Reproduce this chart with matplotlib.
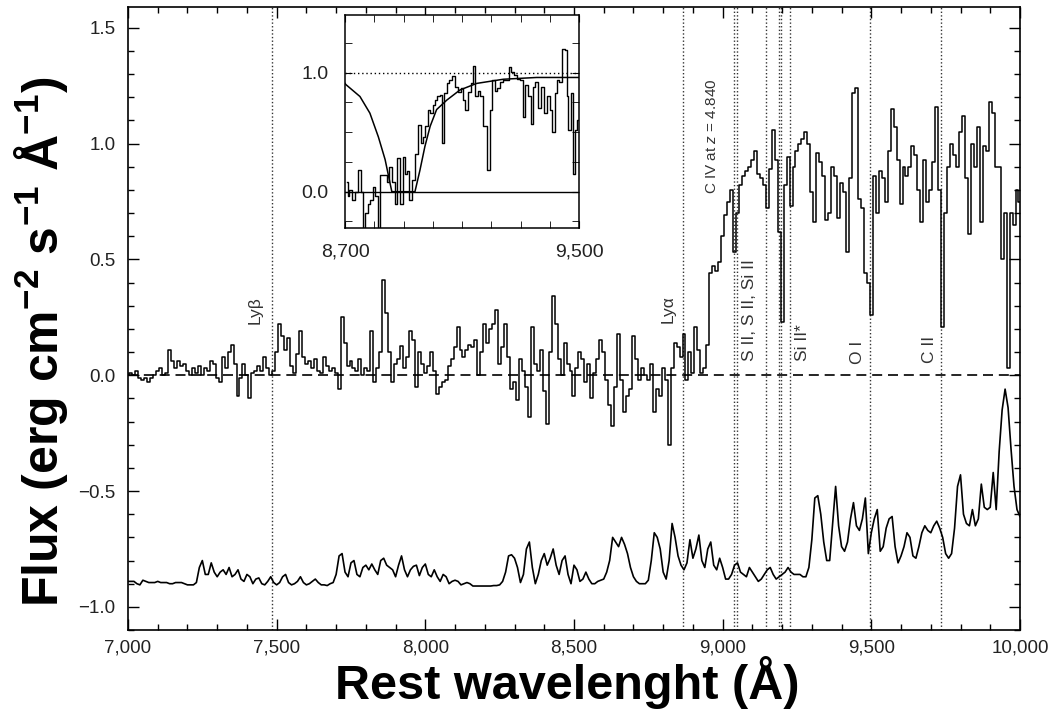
import numpy as np
import matplotlib
matplotlib.use("Agg")
import matplotlib.pyplot as plt
from matplotlib.ticker import MultipleLocator, FixedLocator, FuncFormatter

plt.rcParams['font.family'] = ['Liberation Sans', 'DejaVu Sans']
plt.rcParams['mathtext.fontset'] = 'custom'
plt.rcParams['mathtext.rm'] = 'Liberation Sans'
plt.rcParams['mathtext.it'] = 'Liberation Sans:italic'

# observed spectrum, 10 A bins from 7000 to 10000
wave = np.arange(7000, 10001, 10)
flux = [
    0.00, 0.01, 0.00, 0.02, -0.01, -0.02, -0.01, -0.03, -0.01, 0.00,
    0.02, 0.03, 0.00, 0.01, 0.11, 0.06, 0.03, 0.06, 0.04, 0.05,
    0.02, 0.00, 0.03, 0.01, 0.04, 0.00, 0.03, 0.02, 0.06, 0.05,
    -0.01, -0.03, 0.08, 0.03, 0.10, 0.13, 0.05, -0.09, -0.01, 0.05,
    0.00, -0.10, 0.01, 0.02, 0.04, 0.02, 0.08, 0.03, 0.00, 0.02,
    0.10, 0.22, 0.17, 0.11, 0.16, 0.04, 0.01, 0.09, 0.19, 0.08,
    0.05, 0.06, 0.03, 0.07, 0.02, 0.01, 0.08, 0.04, 0.02, 0.03,
    0.01, -0.06, 0.25, 0.14, 0.04, 0.06, 0.03, 0.02, 0.07, 0.00,
    0.03, 0.02, 0.19, -0.03, 0.03, 0.10, 0.41, 0.27, 0.10, -0.03,
    0.05, 0.07, 0.125, 0.03, 0.08, 0.19, 0.15, -0.05, 0.10, 0.05,
    0.01, 0.04, 0.10, 0.02, -0.08, -0.05, -0.03, -0.02, 0.04, 0.07,
    0.12, 0.21, 0.11, 0.08, 0.11, 0.13, 0.12, 0.15, 0.00, 0.10,
    0.22, 0.14, 0.20, 0.22, 0.28, 0.05, 0.12, 0.22, 0.08, -0.06,
    -0.03, -0.105, 0.07, 0.02, -0.05, -0.18, 0.21, 0.05, 0.02, 0.11,
    -0.07, -0.21, 0.10, 0.34, 0.22, 0.07, 0.00, 0.14, 0.05, 0.02,
    -0.09, 0.03, 0.10, 0.07, -0.03, 0.05, -0.10, 0.01, 0.07, 0.15,
    0.10, -0.02, -0.13, -0.22, -0.05, 0.18, -0.02, -0.16, -0.09, -0.06,
    0.17, 0.07, -0.02, 0.03, 0.00, -0.02, 0.05, -0.16, -0.06, -0.09,
    0.03, -0.02, -0.30, 0.03, 0.14, 0.12, 0.08, 0.18, -0.02, 0.10,
    0.01, 0.21, 0.11, 0.01, 0.03, 0.13, 0.44, 0.47, 0.45, 0.49,
    0.60, 0.69, 0.75, 0.80, 0.53, 0.70, 0.82, 0.86, 0.88, 0.90,
    0.93, 0.97, 0.87, 0.85, 0.82, 0.72, 0.89, 1.06, 0.93, 0.62,
    0.23, 0.82, 0.94, 0.73, 0.90, 0.97, 1.00, 1.02, 1.05, 1.00,
    0.79, 0.66, 0.96, 0.92, 0.86, 0.67, 0.70, 0.90, 0.86, 0.68,
    0.83, 0.79, 0.53, 0.85, 1.22, 1.24, 0.76, 0.72, 0.44, 0.40,
    0.26, 0.86, 0.70, 0.88, 0.85, 0.75, 0.97, 1.15, 1.07, 0.93,
    0.74, 0.90, 0.86, 0.90, 0.99, 0.95, 0.80, 0.66, 0.93, 0.75,
    0.80, 0.92, 1.16, 0.80, 0.21, 0.70, 0.90, 1.00, 0.95, 0.90,
    1.05, 1.12, 0.85, 0.61, 1.00, 0.90, 1.07, 0.66, 0.99, 0.97,
    1.18, 1.13, 0.90, 0.90, 0.50, 0.70, 0.03, 0.70, 0.65, 0.80,
    0.75,
]

# sky spectrum, shifted down
sky = [
    -0.89, -0.89, -0.89, -0.90, -0.905, -0.885, -0.89, -0.895, -0.895, -0.895,
    -0.89, -0.895, -0.895, -0.895, -0.90, -0.90, -0.895, -0.895, -0.895, -0.90,
    -0.905, -0.905, -0.905, -0.895, -0.83, -0.80, -0.86, -0.86, -0.81, -0.85,
    -0.87, -0.85, -0.84, -0.86, -0.83, -0.87, -0.86, -0.84, -0.88, -0.89,
    -0.86, -0.87, -0.90, -0.88, -0.875, -0.90, -0.905, -0.89, -0.87, -0.895,
    -0.905, -0.895, -0.87, -0.86, -0.895, -0.905, -0.90, -0.89, -0.87, -0.895,
    -0.905, -0.90, -0.89, -0.88, -0.895, -0.905, -0.905, -0.908, -0.90, -0.895,
    -0.86, -0.78, -0.77, -0.85, -0.87, -0.81, -0.80, -0.86, -0.87, -0.83,
    -0.82, -0.84, -0.815, -0.84, -0.86, -0.80, -0.79, -0.82, -0.83, -0.84,
    -0.87, -0.82, -0.78, -0.84, -0.87, -0.84, -0.825, -0.82, -0.865, -0.83,
    -0.815, -0.86, -0.87, -0.84, -0.87, -0.89, -0.86, -0.87, -0.90, -0.89,
    -0.885, -0.89, -0.905, -0.90, -0.895, -0.90, -0.91, -0.91, -0.91, -0.91,
    -0.91, -0.91, -0.91, -0.908, -0.908, -0.905, -0.89, -0.85, -0.78, -0.775,
    -0.79, -0.83, -0.895, -0.86, -0.75, -0.72, -0.83, -0.90, -0.86, -0.80,
    -0.77, -0.82, -0.79, -0.75, -0.82, -0.86, -0.80, -0.78, -0.86, -0.90,
    -0.82, -0.84, -0.89, -0.88, -0.85, -0.88, -0.90, -0.90, -0.89, -0.885,
    -0.88, -0.85, -0.80, -0.70, -0.72, -0.74, -0.70, -0.73, -0.77, -0.83,
    -0.87, -0.89, -0.90, -0.90, -0.90, -0.885, -0.80, -0.68, -0.70, -0.75,
    -0.85, -0.88, -0.80, -0.64, -0.70, -0.78, -0.82, -0.84, -0.81, -0.71,
    -0.79, -0.75, -0.69, -0.80, -0.83, -0.75, -0.72, -0.82, -0.84, -0.79,
    -0.83, -0.88, -0.88, -0.86, -0.82, -0.81, -0.85, -0.86, -0.87, -0.83,
    -0.85, -0.87, -0.89, -0.88, -0.86, -0.84, -0.83, -0.86, -0.88, -0.87,
    -0.86, -0.85, -0.83, -0.85, -0.86, -0.86, -0.86, -0.87, -0.87, -0.83,
    -0.71, -0.53, -0.52, -0.60, -0.72, -0.80, -0.80, -0.64, -0.48, -0.65,
    -0.74, -0.76, -0.72, -0.62, -0.55, -0.65, -0.67, -0.62, -0.53, -0.77,
    -0.68, -0.62, -0.58, -0.76, -0.74, -0.66, -0.62, -0.61, -0.74, -0.81,
    -0.78, -0.74, -0.68, -0.70, -0.78, -0.79, -0.74, -0.68, -0.65, -0.67,
    -0.68, -0.65, -0.63, -0.66, -0.70, -0.77, -0.79, -0.77, -0.66, -0.48,
    -0.43, -0.60, -0.64, -0.65, -0.58, -0.65, -0.62, -0.47, -0.57, -0.58,
    -0.57, -0.42, -0.58, -0.33, -0.15, -0.06, -0.14, -0.32, -0.48, -0.58,
    -0.61,
]

# absorption line positions and their labels
line_waves = [7484, 8867, 9037, 9047, 9147, 9188, 9197, 9225, 9497, 9735]
label_text = ['Ly\u03b2', 'Ly\u03b1', 'C IV at $z$ = 4.840', 'S II, S II, Si II',
              'Si II*', 'O I', 'C II']
label_x = [7427, 8816, 8964, 9092, 9267, 9455, 9697]
label_y = [0.28, 0.285, 1.03, 0.28, 0.14, 0.10, 0.11]
label_size = [12.5, 12.5, 11, 12.5, 12.5, 12.5, 12.5]

# zoom on the Lya region (normalised flux)
in_wave = [8706, 8711, 8719, 8728, 8740, 8751, 8760, 8765, 8774, 8783,
           8791, 8799, 8808, 8817, 8825, 8837, 8848, 8856, 8865, 8874,
           8882, 8894, 8899, 8908, 8916, 8924, 8934, 8945, 8954, 8962,
           8970, 8979, 8988, 8996, 9004, 9011, 9020, 9028, 9036, 9042,
           9053, 9061, 9070, 9082, 9091, 9099, 9107, 9116, 9125, 9133,
           9141, 9150, 9159, 9167, 9179, 9190, 9198, 9207, 9216, 9224,
           9236, 9247, 9255, 9264, 9273, 9281, 9293, 9304, 9312, 9321,
           9330, 9338, 9346, 9355, 9367, 9376, 9384, 9395, 9406, 9412,
           9421, 9429, 9437, 9446, 9455, 9460, 9467, 9475, 9483, 9490, 9498]
in_flux = [0.08, -0.04, 0.01, -0.07, 0.00, 0.18, 0.00, -0.32, -0.18, -0.10,
           -0.07, 0.04, -0.04, -0.38, 0.14, 0.14, 0.08, 0.21, 0.08, -0.10,
           0.28, -0.10, 0.29, 0.15, 0.17, -0.07, 0.10, 0.32, 0.56, 0.41,
           0.46, 0.55, 0.69, 0.66, 0.73, 0.77, 0.80, 0.81, 0.41, 0.83,
           0.91, 0.94, 0.97, 0.88, 0.84, 0.87, 0.77, 0.69, 0.84, 0.91,
           1.06, 0.80, 0.85, 0.80, 0.55, 0.18, 0.69, 0.94, 0.85, 0.87,
           0.92, 0.94, 0.94, 1.05, 1.01, 0.98, 0.95, 0.94, 0.63, 0.90,
           0.80, 0.57, 0.88, 0.92, 0.70, 0.88, 0.66, 0.80, 0.69, 0.50,
           0.83, 0.94, 0.92, 1.20, 1.19, 0.80, 0.52, 0.83, 0.15, 0.52, 0.60]

# damping-wing model curve
model_wave = [8700, 8703, 8751, 8785, 8814, 8837, 8854, 8860, 8939, 8956,
              8973, 8991, 9013, 9048, 9093, 9150, 9241, 9355, 9500]
model_flux = [0.91, 0.90, 0.80, 0.66, 0.46, 0.27, 0.07, 0.0, 0.0, 0.18,
              0.38, 0.55, 0.69, 0.77, 0.855, 0.91, 0.945, 0.96, 0.96]

fig = plt.figure(figsize=(10.5, 7.14), dpi=100)
ax = fig.add_axes([0.1219, 0.1176, 0.8495, 0.8727])

for lam in line_waves:
    ax.axvline(lam, color='#333333', lw=1.0, ls=(0, (1, 1.6)), zorder=1)
ax.axhline(0.0, color='black', lw=1.2, dashes=(6, 3.5), zorder=2)
ax.plot(wave, sky, color='black', lw=1.2, zorder=3)
ax.plot(wave, flux, color='black', lw=1.1, drawstyle='steps-mid', zorder=4)

for txt, lx, ly, fs in zip(label_text, label_x, label_y, label_size):
    ax.text(lx, ly, txt, rotation=90, ha='center', va='center',
            fontsize=fs, color='#333333')

ax.set_xlim(7000, 10000)
ax.set_ylim(-1.1, 1.59)
ax.xaxis.set_major_locator(MultipleLocator(500))
ax.xaxis.set_minor_locator(MultipleLocator(100))
ax.yaxis.set_major_locator(MultipleLocator(0.5))
ax.yaxis.set_minor_locator(MultipleLocator(0.1))
ax.xaxis.set_major_formatter(FuncFormatter(lambda v, p: f'{v:,.0f}'))
ax.yaxis.set_major_formatter(FuncFormatter(lambda v, p: f'{v:.1f}'.replace('-', '\u2212')))
ax.tick_params(which='both', direction='in', top=True, right=True,
               labelsize=13.5, labelcolor='#222222', width=1.0)
ax.tick_params(which='major', length=8)
ax.tick_params(axis='x', which='major', pad=7)
ax.tick_params(axis='y', which='major', pad=9)
ax.tick_params(which='minor', length=4)
for sp in ax.spines.values():
    sp.set_linewidth(1.2)

fig.text(0.040, 0.521,
         r'Flux (erg cm$^{\mathdefault{-2}}$ s$^{\mathdefault{-1}}$ Å$^{\mathdefault{-1}}$)',
         rotation=90, ha='center', va='center', fontsize=36, fontweight='bold')
fig.text(0.54, 0.044, 'Rest wavelenght (Å)', ha='center', va='center',
         fontsize=35, fontweight='bold')

# inset
axin = fig.add_axes([0.3286, 0.6807, 0.2229, 0.2983])
axin.plot(in_wave, in_flux, color='black', lw=1.0, drawstyle='steps-mid')
axin.plot(model_wave, model_flux, color='black', lw=1.1)
axin.axhline(0.0, color='black', lw=1.0)
axin.axhline(1.0, color='black', lw=1.0, ls=(0, (1, 2)))
axin.set_xlim(8700, 9500)
axin.set_ylim(-0.305, 1.485)
axin.xaxis.set_major_locator(FixedLocator([8700, 9500]))
axin.xaxis.set_minor_locator(MultipleLocator(100))
axin.yaxis.set_major_locator(FixedLocator([0.0, 1.0]))
axin.yaxis.set_minor_locator(MultipleLocator(0.25))
axin.xaxis.set_major_formatter(FuncFormatter(lambda v, p: f'{v:,.0f}'))
axin.yaxis.set_major_formatter(FuncFormatter(lambda v, p: f'{v:.1f}'))
axin.tick_params(which='both', direction='in', top=True, right=True,
                 labelsize=14, labelcolor='#222222')
axin.tick_params(which='major', length=5)
axin.tick_params(axis='x', which='major', pad=11)
axin.tick_params(axis='y', which='major', pad=12)
axin.tick_params(which='minor', length=5)
for sp in axin.spines.values():
    sp.set_linewidth(1.1)

fig.savefig('out.png', dpi=100)
